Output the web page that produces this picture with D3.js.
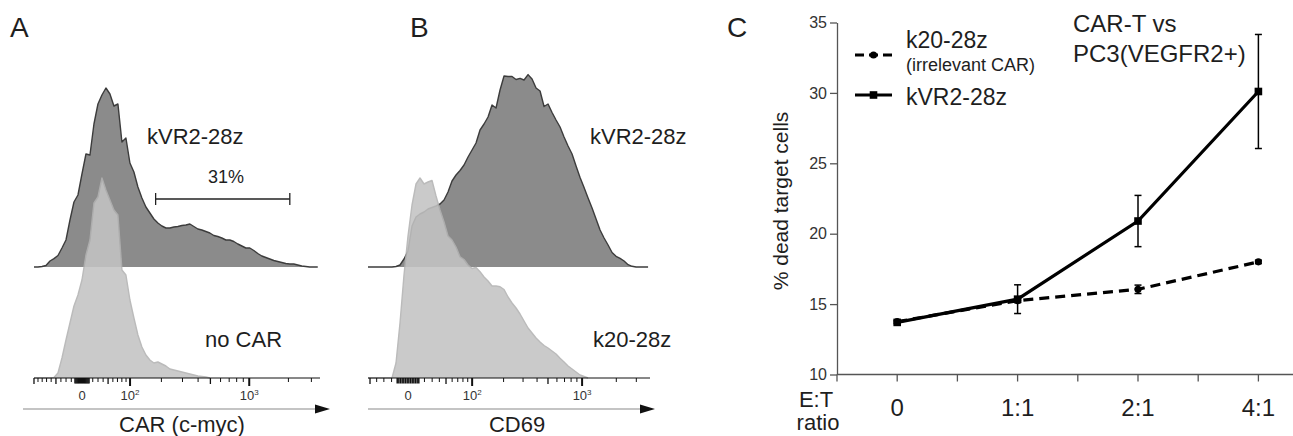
<!DOCTYPE html>
<html><head><meta charset="utf-8">
<script src="https://cdn.jsdelivr.net/npm/d3@7"></script>
<style>
body{margin:0;background:#fff}
svg{display:block;font-family:"Liberation Sans",Arial,sans-serif}
</style>
</head><body>
<svg id="chart" width="1293" height="436"></svg>
<script>
// ================= DATA =================
// Panel A – CAR (c-myc) histograms, normalized counts (% of mode) per display bin
// bins are evenly spaced on an arcsinh display scale: t = asinh(value / width)
const carBinStart = -0.847, carBinStep = 0.0705, carWidth = 105;
const carKVR2 = [0,0,0.25,0.75,3,4.2,5.75,9.5,13.5,23.5,
  32.5,36,46.5,56.5,56,71.5,81.5,86,89.5,86.5,
  80.5,81.5,62.5,64.5,52,47.5,40,34.5,30,27,
  24,22,20.5,19.5,19.5,20,20.25,20.75,21,21.5,
  20.25,19,18.5,17.75,17,15.75,15.25,14.5,13.5,13.5,
  12.75,11.5,10.5,9.5,9.5,8.25,6.75,5.5,4.75,4,
  3.25,2.75,2.25,1.75,1.5,1.5,1,0.5,0.25,0,0,0];
const carNoCAR = [0,0,0,0,0,0.25,2.5,10,19,27.5,
  36,41.5,49,61.5,69,87.5,90.5,100,94,89,
  84,81.5,54,51.5,39,30,21.5,15.5,11.5,9,
  7.5,8,7,6,4.5,4,3.5,3,2.5,2,
  1.5,1,0.75,0.5,0];
const carGate = [178, 2050];          // gate limits (fluorescence units)
const carGateLabel = "31%";

// Panel B – CD69 histograms
const cd69BinStart = -0.81, cd69BinStep = 0.081, cd69Width = 59;
const cd69KVR2 = [0,0,0,0,0,0,0,0.25,1,4,
  8,20.5,25,26.5,27.5,29,29.75,30.5,31.5,33.5,
  37.5,43,46,48.25,51,55,58.5,62,68.5,71.5,
  75,81,79.5,88.5,95.5,95.25,95.25,93.75,94.35,93.5,
  96.2,94,89.5,88,80.25,81.5,77.25,73.5,70,65,
  60.5,56.5,50.5,44.75,39.75,34.5,29.5,24,18.5,14.5,
  11,7.25,5.35,4.35,3,1.15,0.35,0,0,0,0];
const cd69K20 = [0,0,0,0,0,0,0,7.5,27.5,51.5,
  71,86.5,97,100,97,98,98.75,91,84,78,
  71,69,65.5,60.65,59.25,56.5,54.75,55.25,53.15,50.5,
  48.5,46,46,45.65,44.25,40.5,37.5,35,32,28.5,
  25,22.5,20,18,16.25,15,13.5,12,9.85,8,
  6,4.5,3,1.5,0.75,0];

// Flow axis ticks (fluorescence units)
const flowLabelTicks = [0, 100, 1000];
const flowLabelText = ["0", "10|2", "10|3"];
const flowMajorTicks = [100, 1000];
const flowMidTicks = [-100, -50, 50, 500, 5000];
const flowMinorTicks = [-90,-80,-70,-60,-40,-30,-20,20,30,40,60,70,80,90,
  200,300,400,600,700,800,900,2000,3000,4000];
const flowZeroTicks = [-13,-11,-9,-7,-5,-3,-1,1,3,5,7,9,11,13];

// Panel C – killing assay
const ratios = ["0", "1:1", "2:1", "4:1"];
const k20Mean  = [13.75, 15.25, 16.05, 18.0];
const k20Err   = [0.1, 0.15, 0.3, 0.12];
const kvr2Mean = [13.7, 15.35, 20.9, 30.1];
const kvr2Err  = [0.1, 1.02, 1.82, 4.05];
const yTicks = [10, 15, 20, 25, 30, 35];

// ================= DRAW =================
const svg = d3.select("#chart");
const TXT = "#1e1e1e";

function panelLetter(x, s) {
  svg.append("text").attr("x", x).attr("y", 37).attr("font-size", 28)
    .attr("fill", TXT).text(s);
}
panelLetter(10, "A"); panelLetter(410, "B"); panelLetter(727, "C");

function flowPanel(opt) {
  const x = d3.scaleLinear().domain(opt.domain).range(opt.range);
  const h = d3.scaleLinear().domain([0, 100]).range([0, 200]);
  const fx = v => x(Math.asinh(v / opt.width));
  const binX = (d, i) => x(opt.binStart + i * opt.binStep);

  function hist(data, base, fill, stroke, op) {
    const area = d3.area().x(binX).y0(base).y1(d => base - h(d));
    const line = d3.line().x(binX).y(d => base - h(d));
    const g = svg.append("g").attr("opacity", op);
    g.append("path").datum(data).attr("d", area).attr("fill", fill);
    g.append("path").datum(data).attr("d", line).attr("fill", "none")
      .attr("stroke", stroke).attr("stroke-width", 1.4).attr("stroke-linejoin", "round");
  }
  hist(opt.top, opt.topBase, "#8b8b8b", "#3c3c3c", 1);
  hist(opt.bottom, opt.axisY, "#c3c3c3", "#b2b2b2", 0.88);

  // axis line
  const ax = svg.append("g");
  ax.append("line").attr("x1", opt.range[0]).attr("x2", opt.range[1])
    .attr("y1", opt.axisY).attr("y2", opt.axisY).attr("stroke", "#111").attr("stroke-width", 1);
  const inDom = v => { const p = fx(v); return p >= opt.range[0] - 0.5 && p <= opt.range[1] + 0.5; };
  function ticks(vals, len, w) {
    ax.selectAll(null).data(vals.filter(inDom)).enter().append("line")
      .attr("x1", fx).attr("x2", fx).attr("y1", opt.axisY).attr("y2", opt.axisY + len)
      .attr("stroke", "#111").attr("stroke-width", w);
  }
  ticks(flowMinorTicks, 4, 1);
  ticks(flowMidTicks, 6, 1.3);
  ticks(flowMajorTicks, 8, 2);
  ticks(flowZeroTicks, 5.5, 1.5);
  flowLabelTicks.forEach((v, i) => {
    const parts = flowLabelText[i].split("|");
    const t = ax.append("text").attr("x", fx(v)).attr("y", opt.axisY + 22)
      .attr("text-anchor", "middle").attr("font-size", 13).attr("fill", "#333");
    t.append("tspan").text(parts[0]);
    if (parts[1]) t.append("tspan").attr("dy", -5).attr("font-size", 8).text(parts[1]);
  });
  // arrow
  const ay = opt.axisY + 31;
  svg.append("line").attr("x1", opt.arrow[0]).attr("x2", opt.arrow[1] - 10)
    .attr("y1", ay).attr("y2", ay).attr("stroke", "#8a8a8a").attr("stroke-width", 1.2);
  svg.append("path").attr("d", `M${opt.arrow[1] - 15},${ay - 4.5}L${opt.arrow[1]},${ay}L${opt.arrow[1] - 15},${ay + 4.5}Z`)
    .attr("fill", "#111");
  svg.append("text").attr("x", opt.titleX).attr("y", 432).attr("text-anchor", "middle")
    .attr("font-size", 22).attr("fill", TXT).text(opt.title);
  opt.labels.forEach(l => svg.append("text").attr("x", l[0]).attr("y", l[1])
    .attr("font-size", l[3] || 22).attr("fill", TXT).text(l[2]));
  return fx;
}

const fxA = flowPanel({
  domain: [-0.847, 4.198], range: [34, 320], width: carWidth,
  binStart: carBinStart, binStep: carBinStep,
  top: carKVR2, bottom: carNoCAR, topBase: 267, axisY: 378,
  arrow: [23, 330], title: "CAR (c-myc)", titleX: 182,
  labels: [[147, 144, "kVR2-28z"], [205, 347, "no CAR"], [208, 183, carGateLabel, 18]]
});
// gate bar
{
  const gy = 199, x1 = fxA(carGate[0]), x2 = fxA(carGate[1]);
  const g = svg.append("g").attr("stroke", "#222").attr("stroke-width", 1.3);
  g.append("line").attr("x1", x1).attr("x2", x2).attr("y1", gy).attr("y2", gy);
  g.append("line").attr("x1", x1).attr("x2", x1).attr("y1", gy - 6).attr("y2", gy + 6);
  g.append("line").attr("x1", x2).attr("x2", x2).attr("y1", gy - 6).attr("y2", gy + 6);
}

flowPanel({
  domain: [-0.81, 4.899], range: [368, 650], width: cd69Width,
  binStart: cd69BinStart, binStep: cd69BinStep,
  top: cd69KVR2, bottom: cd69K20, topBase: 267, axisY: 378,
  arrow: [368, 655], title: "CD69", titleX: 517,
  labels: [[590, 144, "kVR2-28z"], [593, 347, "k20-28z"]]
});

// ---------- Panel C ----------
const step = 120.4, x0 = 837;
const cx = d3.scaleBand().domain(ratios).range([x0, x0 + step * ratios.length]).padding(0);
const cc = d => cx(d) + cx.bandwidth() / 2;
const cy = d3.scaleLinear().domain([10, 35]).range([374.5, 22.5]);
const AX = "#555";

const yAx = svg.append("g").attr("transform", `translate(${x0},0)`)
  .call(d3.axisLeft(cy).tickValues(yTicks).tickSize(7).tickSizeOuter(0).tickPadding(3));
yAx.select(".domain").attr("stroke", AX).attr("stroke-width", 1.3);
yAx.selectAll(".tick line").attr("stroke", AX).attr("stroke-width", 1.3);
yAx.selectAll(".tick text").attr("font-size", 16).attr("fill", "#333")
  .attr("font-family", "Liberation Sans, Arial, sans-serif");

// x axis
const xg = svg.append("g");
xg.append("line").attr("x1", x0).attr("x2", 1293).attr("y1", cy(10)).attr("y2", cy(10))
  .attr("stroke", AX).attr("stroke-width", 1.3);
const tickXs = ratios.map(r => cx(r)).concat(ratios.map(cc));
xg.selectAll(null).data(tickXs).enter().append("line")
  .attr("x1", d => d).attr("x2", d => d).attr("y1", cy(10)).attr("y2", cy(10) + 7)
  .attr("stroke", AX).attr("stroke-width", 1.3);
xg.selectAll(null).data(ratios).enter().append("text")
  .attr("x", cc).attr("y", 416).attr("text-anchor", "middle")
  .attr("font-size", 24).attr("fill", TXT).text(d => d);
svg.append("text").attr("x", 816).attr("y", 407).attr("text-anchor", "middle")
  .attr("font-size", 22).attr("fill", TXT).text("E:T");
svg.append("text").attr("x", 818).attr("y", 430).attr("text-anchor", "middle")
  .attr("font-size", 22).attr("fill", TXT).text("ratio");
svg.append("text").attr("transform", "translate(788,201) rotate(-90)")
  .attr("text-anchor", "middle").attr("font-size", 21).attr("fill", TXT)
  .text("% dead target cells");

function series(means, errs, dash, marker) {
  const g = svg.append("g");
  const pts = ratios.map((r, i) => ({ x: cc(r), m: means[i], e: errs[i] }));
  g.append("path").datum(pts)
    .attr("d", d3.line().x(d => d.x).y(d => cy(d.m)))
    .attr("fill", "none").attr("stroke", "#000").attr("stroke-width", 3.2)
    .attr("stroke-dasharray", dash);
  const eb = g.selectAll(null).data(pts).enter().append("g")
    .attr("stroke", "#000").attr("stroke-width", 1.5);
  eb.append("line").attr("x1", d => d.x).attr("x2", d => d.x)
    .attr("y1", d => cy(d.m + d.e)).attr("y2", d => cy(d.m - d.e));
  eb.append("line").attr("x1", d => d.x - 3.5).attr("x2", d => d.x + 3.5)
    .attr("y1", d => cy(d.m + d.e)).attr("y2", d => cy(d.m + d.e));
  eb.append("line").attr("x1", d => d.x - 3.5).attr("x2", d => d.x + 3.5)
    .attr("y1", d => cy(d.m - d.e)).attr("y2", d => cy(d.m - d.e));
  pts.forEach(d => marker(g, d.x, cy(d.m)));
}
const circ = (g, x, y) => g.append("circle").attr("cx", x).attr("cy", y).attr("r", 3.6).attr("fill", "#000");
const sq = (g, x, y) => g.append("rect").attr("x", x - 3.8).attr("y", y - 3.8)
  .attr("width", 7.6).attr("height", 7.6).attr("fill", "#000");
series(k20Mean, k20Err, "10,6", circ);
series(kvr2Mean, kvr2Err, null, sq);

// legend
const lg = svg.append("g");
lg.append("line").attr("x1", 855).attr("x2", 892).attr("y1", 55).attr("y2", 55)
  .attr("stroke", "#000").attr("stroke-width", 3.2).attr("stroke-dasharray", "9,5");
circ(lg, 873.5, 55);
lg.append("line").attr("x1", 855).attr("x2", 892).attr("y1", 95).attr("y2", 95)
  .attr("stroke", "#000").attr("stroke-width", 3.2);
sq(lg, 873.5, 95);
lg.append("text").attr("x", 906).attr("y", 48).attr("font-size", 23).attr("fill", TXT).text("k20-28z");
lg.append("text").attr("x", 906).attr("y", 71).attr("font-size", 18).attr("fill", TXT).text("(irrelevant CAR)");
lg.append("text").attr("x", 906).attr("y", 105).attr("font-size", 23).attr("fill", TXT).text("kVR2-28z");
svg.append("text").attr("x", 1073).attr("y", 32).attr("font-size", 24).attr("fill", TXT).text("CAR-T vs");
svg.append("text").attr("x", 1073).attr("y", 62).attr("font-size", 24).attr("fill", TXT).text("PC3(VEGFR2+)");
</script>
</body></html>
